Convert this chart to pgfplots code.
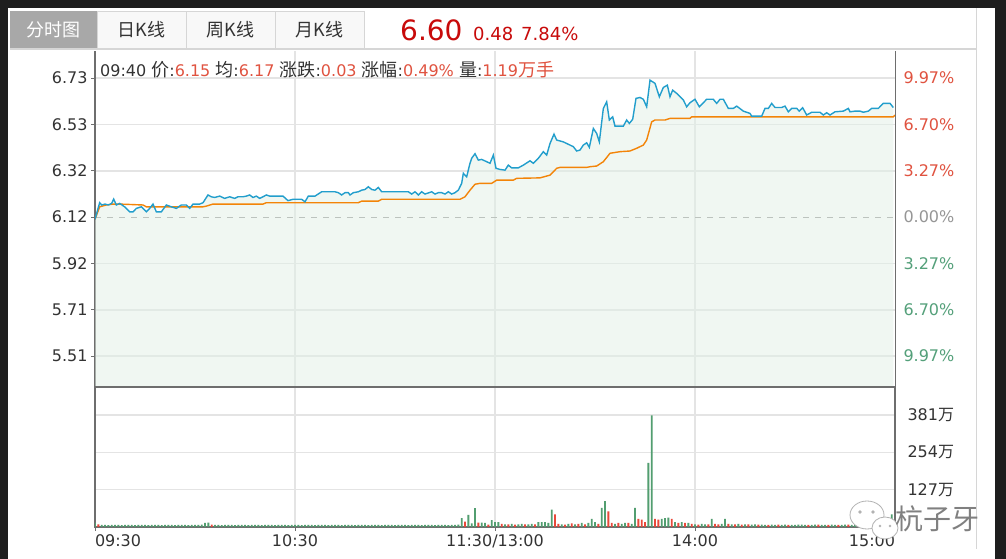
\documentclass[border=0pt]{standalone}
\usepackage{pgfplots}
\pgfplotsset{compat=1.18}
\usepackage{pgfplotstable}
\usepackage{fontspec}
\setmainfont{DejaVu Sans}
\newfontfamily\cjk{Noto Sans CJK SC}
\newcommand\fs[1]{\fontsize{#1}{#1}\selectfont}
\newcommand\zh[1]{{\cjk\fs{18}#1}}

\definecolor{darkbg}{RGB}{30,30,30}
\definecolor{textdark}{RGB}{51,51,51}
\definecolor{upred}{RGB}{224,83,64}
\definecolor{bigred}{RGB}{200,10,10}
\definecolor{dngreen}{RGB}{84,160,122}
\definecolor{zgray}{RGB}{150,150,150}
\definecolor{pline}{RGB}{34,158,204}
\definecolor{aline}{RGB}{243,132,8}
\definecolor{areafill}{RGB}{226,240,230}
\definecolor{axisgray}{RGB}{110,110,110}
\definecolor{gridgray}{RGB}{228,228,228}
\definecolor{barred}{RGB}{232,72,58}
\definecolor{bargreen}{RGB}{82,158,112}
\definecolor{tabgray}{RGB}{168,168,168}
\definecolor{tabbg}{RGB}{248,248,248}
\definecolor{tabline}{RGB}{214,214,214}

% price (minutes from 09:30, afternoon continues after 120)
\pgfplotstableread{
m p
0 6.110
1.4 6.183
2 6.173
3 6.177
4 6.173
5 6.180
5.6 6.199
6.4 6.173
7.4 6.180
8.9 6.165
10.4 6.143
11.4 6.143
12.4 6.158
13.9 6.165
15.4 6.143
16.4 6.158
17.4 6.177
18.4 6.143
19.9 6.143
21.4 6.173
22.9 6.165
24.4 6.158
25.9 6.173
27.4 6.173
28.4 6.158
29.4 6.177
31.4 6.177
32.4 6.183
33.9 6.217
34.9 6.209
35.9 6.206
37.4 6.212
38.9 6.202
40.4 6.209
41.9 6.202
42.9 6.209
44.4 6.209
45.4 6.212
46.4 6.217
47.4 6.206
48.4 6.212
49.4 6.202
50.4 6.209
51.4 6.217
52.4 6.212
56.4 6.212
57.9 6.192
59.4 6.198
62 6.198
63 6.187
64 6.212
66 6.212
68 6.231
72 6.231
73 6.227
74 6.217
75 6.227
76 6.227
76.5 6.217
77.5 6.227
79 6.231
80 6.238
81 6.241
82 6.253
83 6.241
84 6.238
85 6.250
86 6.231
94 6.231
95 6.221
96 6.231
97 6.217
98 6.231
99 6.221
101 6.231
102 6.221
103 6.227
104 6.227
105 6.221
106 6.231
107 6.221
108 6.227
109 6.238
110 6.268
110.5 6.312
111.5 6.297
112.5 6.356
113 6.378
114 6.398
115 6.370
116 6.373
117.5 6.363
118.5 6.356
119.5 6.392
120.3 6.334
121.5 6.329
123 6.326
124 6.348
125 6.336
127 6.336
128.5 6.348
130.5 6.367
131.5 6.356
133 6.378
134.5 6.407
135.5 6.392
136.5 6.443
137.7 6.484
138.5 6.458
140.5 6.450
141.5 6.443
143.5 6.429
144.5 6.410
145.5 6.414
146.5 6.436
147.5 6.446
148.3 6.426
149.5 6.509
150.5 6.487
151.3 6.450
152.5 6.597
153.5 6.626
154.3 6.546
155.3 6.560
156 6.519
158.5 6.519
159.5 6.546
160.3 6.531
161.3 6.549
162.3 6.641
163.5 6.645
164.5 6.637
165.5 6.604
166.5 6.721
168 6.707
169.3 6.648
170.5 6.689
171.7 6.699
172.5 6.648
173.3 6.677
174.5 6.663
176.5 6.634
177.5 6.604
178.5 6.622
180 6.637
181.3 6.604
183.5 6.637
185.5 6.637
186.5 6.619
187.5 6.637
188.5 6.637
190 6.597
191.5 6.597
192.5 6.607
194.5 6.585
196.5 6.575
197 6.563
200 6.563
201 6.597
202 6.597
203 6.619
204 6.601
206 6.601
207 6.607
208 6.582
209 6.597
210.5 6.597
211.3 6.585
212.3 6.600
213.5 6.568
215 6.580
217.5 6.580
218.5 6.568
219.5 6.578
220.5 6.568
222 6.582
224.5 6.585
226 6.597
226.5 6.582
228 6.585
229.5 6.585
230.5 6.580
232 6.585
233 6.597
235 6.597
236.5 6.619
238.5 6.619
239.5 6.601
}\price

% average price
\pgfplotstableread{
m p
0 6.110
1.4 6.165
3.4 6.173
5.4 6.177
7.4 6.177
14.4 6.173
15.4 6.165
32.4 6.165
33.4 6.168
35.4 6.177
50.4 6.177
51.4 6.183
79 6.183
80 6.190
85 6.190
86 6.198
109.5 6.198
111 6.209
112.5 6.238
114 6.264
115.5 6.268
119 6.268
120.5 6.282
125.5 6.282
126.5 6.290
133.5 6.292
136.5 6.304
138.5 6.334
139.5 6.338
147.5 6.338
148.5 6.341
150.5 6.344
152.5 6.363
154.5 6.400
157.5 6.407
160.5 6.410
162.5 6.422
164.5 6.436
165.5 6.458
167 6.538
168 6.546
171 6.546
172.5 6.553
178.5 6.553
179 6.560
239.5 6.560
240 6.568
}\avg

% volume (万), falling minutes
\pgfplotstableread[row sep=\\]{
m v\\
0 15\\ 2 7\\ 3 7\\ 4 6\\ 5 7\\ 6 7\\ 7 7\\ 8 6\\ 9 7\\ 10 7\\ 11 7\\ 12 6\\ 13 7\\
14 7\\ 15 7\\ 16 6\\ 17 7\\ 18 7\\ 19 7\\ 20 6\\ 21 7\\ 22 7\\ 23 7\\ 24 6\\ 25 7\\
26 7\\ 27 7\\ 28 6\\ 29 7\\ 30 7\\ 31 7\\ 32 8\\ 33 14\\ 34 15\\ 36 7\\ 37 7\\ 38 6\\
39 7\\ 40 7\\ 41 7\\ 42 6\\ 43 7\\ 44 7\\ 45 7\\ 46 6\\ 47 7\\ 48 7\\ 49 7\\ 50 6\\
51 7\\ 52 7\\ 53 7\\ 54 6\\ 55 7\\ 56 7\\ 57 7\\ 58 6\\ 59 7\\ 60 7\\ 61 7\\ 62 6\\
63 7\\ 64 7\\ 65 7\\ 66 6\\ 67 7\\ 68 7\\ 69 7\\ 70 6\\ 71 7\\ 72 7\\ 73 7\\ 74 6\\
75 7\\ 76 7\\ 77 7\\ 78 6\\ 79 7\\ 80 7\\ 81 7\\ 82 6\\ 83 7\\ 84 7\\ 85 7\\ 86 6\\
87 7\\ 88 7\\ 89 7\\ 90 6\\ 91 7\\ 92 7\\ 93 7\\ 94 6\\ 95 7\\ 96 7\\ 97 7\\ 98 6\\
99 7\\ 100 7\\ 101 7\\ 102 6\\ 103 7\\ 104 7\\ 105 7\\ 106 6\\ 107 7\\ 108 7\\ 109 8\\
110 30\\ 112 41\\ 113 12\\ 114 64\\ 116 15\\ 117 14\\ 119 23\\ 120 17\\ 121 17\\
123 9\\ 125 11\\ 127 9\\ 128 11\\ 130 9\\ 131 11\\ 133 17\\ 134 17\\ 135 17\\ 136 14\\
137 59\\ 140 9\\ 142 11\\ 144 9\\ 146 14\\ 148 14\\ 149 28\\ 150 17\\ 152 65\\ 153 88\\
156 11\\ 158 11\\ 159 14\\ 161 11\\ 162 65\\ 166 218\\ 167 380\\ 170 28\\ 171 30\\ 172 32\\
174 17\\ 176 17\\ 178 14\\ 180 9\\ 182 11\\ 183 9\\ 185 28\\ 188 11\\ 189 28\\ 191 9\\
193 11\\ 195 9\\ 197 8\\ 198 9\\ 200 8\\ 201 7\\ 203 8\\ 204 7\\ 206 7\\ 207 8\\ 209 7\\
210 7\\ 211 8\\ 212 8\\ 213 7\\ 215 7\\ 216 8\\ 218 7\\ 219 7\\ 221 8\\ 222 7\\ 224 7\\
225 8\\ 227 7\\ 228 9\\ 230 7\\ 231 8\\ 233 7\\ 234 8\\ 236 9\\ 237 8\\ 239 43\\ 240 12\\
}\volgreen

% volume (万), rising minutes
\pgfplotstableread[row sep=\\]{
m v\\
1 9\\ 35 8\\ 111 18\\ 115 15\\ 118 8\\ 122 11\\ 124 9\\ 126 8\\ 129 9\\ 132 9\\
138 43\\ 139 11\\ 141 8\\ 143 12\\ 145 11\\ 147 9\\ 151 11\\ 154 53\\ 155 14\\ 157 14\\
160 14\\ 163 28\\ 164 25\\ 165 17\\ 168 28\\ 169 25\\ 173 28\\ 175 14\\ 177 14\\ 179 11\\
181 8\\ 184 9\\ 186 11\\ 187 9\\ 190 11\\ 192 9\\ 194 8\\ 196 9\\ 199 8\\ 202 7\\
205 8\\ 208 7\\ 214 7\\ 217 8\\ 220 7\\ 223 7\\ 226 8\\ 229 7\\ 232 8\\
235 7\\ 238 9\\
}\volred

\begin{document}
\begin{tikzpicture}
\useasboundingbox (0pt,0pt) rectangle (1006pt,559pt);
\fill[darkbg] (0pt,0pt) rectangle (1006pt,559pt);
\fill[white] (8pt,0pt) rectangle (995pt,551pt);
\draw[tabline] (976.5pt,10pt) -- (976.5pt,551pt);

% tabs
\fill[tabgray] (10pt,511pt) rectangle (97pt,548pt);
\node[white] at (53.5pt,529.5pt) {\cjk\fs{18}分时图};
\filldraw[fill=tabbg,draw=tabline] (97pt,511pt) rectangle (186pt,548pt);
\filldraw[fill=tabbg,draw=tabline] (186pt,511pt) rectangle (275pt,548pt);
\filldraw[fill=tabbg,draw=tabline] (275pt,511pt) rectangle (364pt,548pt);
\node[textdark] at (141.5pt,529.5pt) {\cjk\fs{18}日K线};
\node[textdark] at (230.5pt,529.5pt) {\cjk\fs{18}周K线};
\node[textdark] at (319.5pt,529.5pt) {\cjk\fs{18}月K线};
\node[bigred,anchor=base west,inner sep=0] at (400pt,518pt) {\fs{28}6.60};
\node[bigred,anchor=base west,inner sep=0] at (473pt,518pt) {\fs{18}0.48};
\node[bigred,anchor=base west,inner sep=0] at (521pt,518pt) {\fs{18}7.84\%};
\draw[tabline, line width=1.5pt] (10pt,510pt) -- (976pt,510pt);

% price panel
\begin{axis}[
  at={(95pt,172pt)}, anchor=south west,
  scale only axis, width=800pt, height=336pt,
  xmin=0, xmax=240, ymin=5.374, ymax=6.849,
  axis x line*=bottom, axis y line*=left,
  axis line style={draw=axisgray, line width=1.5pt},
  xtick={60,120,180}, xticklabel=\empty, xtick style={draw=none},
  xmajorgrids,
  ytick={5.510,5.713,5.917,6.323,6.527,6.730},
  yticklabels={5.51,5.71,5.92,6.32,6.53,6.73},
  extra y ticks={6.120}, extra y tick labels={6.12},
  extra y tick style={major grid style={draw=zgray, line width=1pt, dash pattern=on 6pt off 6pt}},
  ymajorgrids,
  major grid style={draw=gridgray, line width=1.5pt},
  tick align=outside, major tick length=4pt,
  ytick style={draw=axisgray, line width=1pt},
  yticklabel style={font=\fs{16}, text=textdark},
]
\addplot[fill=areafill, fill opacity=0.5, draw=none] table[x=m,y=p] {\price} \closedcycle;
\addplot[aline, line width=1.4pt] table[x=m,y=p] {\avg};
\addplot[pline, line width=1.4pt] table[x=m,y=p] {\price};
\end{axis}

% right percentage labels
\begin{axis}[
  at={(95pt,172pt)}, anchor=south west,
  scale only axis, width=800pt, height=336pt,
  xmin=0, xmax=240, ymin=5.374, ymax=6.849,
  axis x line=none, axis y line*=right,
  axis line style={draw=axisgray, line width=1pt},
  ytick={5.510,5.713,5.917,6.120,6.323,6.527,6.730},
  yticklabels={\textcolor{dngreen}{9.97\%},\textcolor{dngreen}{6.70\%},\textcolor{dngreen}{3.27\%},\textcolor{zgray}{0.00\%},\textcolor{upred}{3.27\%},\textcolor{upred}{6.70\%},\textcolor{upred}{9.97\%}},
  ytick style={draw=none},
  yticklabel style={font=\fs{16}, xshift=5pt},
]
\addplot[draw=none] table[x=m,y=p] {\avg};
\end{axis}

% volume panel
\begin{axis}[
  at={(95pt,32pt)}, anchor=south west,
  scale only axis, width=800pt, height=140pt,
  xmin=0, xmax=240, ymin=0, ymax=476.3,
  axis line style={draw=axisgray, line width=1.5pt},
  xtick={0,60,120,180,240},
  xticklabels={\makebox[0pt][l]{09:30},10:30,11:30/13:00,14:00,\makebox[0pt][r]{15:00}},
  xtick pos=bottom, tick align=outside, major tick length=4pt,
  xtick style={draw=axisgray, line width=1pt},
  xticklabel style={font=\fs{16}, text=textdark},
  xmajorgrids,
  ytick={127,254,381}, yticklabels={127{\cjk 万},254{\cjk 万},381{\cjk 万}},
  yticklabel pos=right, ytick style={draw=none},
  yticklabel style={font=\fs{16}, text=textdark, xshift=5pt},
  ymajorgrids,
  major grid style={draw=gridgray, line width=1.5pt},
]
\addplot[ybar, bar width=0.55, bar shift=0pt, fill=bargreen, draw=none] table[x=m,y=v] {\volgreen};
\addplot[ybar, bar width=0.55, bar shift=0pt, fill=barred, draw=none] table[x=m,y=v] {\volred};
\end{axis}

% info row
\node[anchor=base west, inner sep=0, textdark] at (100pt,482pt) {\fs{16}09:40 \zh{价}:\textcolor{upred}{6.15} \zh{均}:\textcolor{upred}{6.17} \zh{涨跌}:\textcolor{upred}{0.03} \zh{涨幅}:\textcolor{upred}{0.49\%} \zh{量}:\textcolor{upred}{1.19\zh{万手}}};

% watermark
\filldraw[fill=white, draw=gray!60, line width=0.8pt] (867pt,44pt) ellipse (17pt and 14pt);
\filldraw[fill=white, draw=gray!60, line width=0.8pt] (885pt,31pt) ellipse (13pt and 11pt);
\fill[gray!60] (860pt,47pt) circle (1.8pt) (873pt,47pt) circle (1.8pt) (880pt,33pt) circle (1.4pt) (890pt,33pt) circle (1.4pt);
\node[gray] at (937pt,40pt) {\cjk\fs{28}杭子牙};
\end{tikzpicture}
\end{document}
